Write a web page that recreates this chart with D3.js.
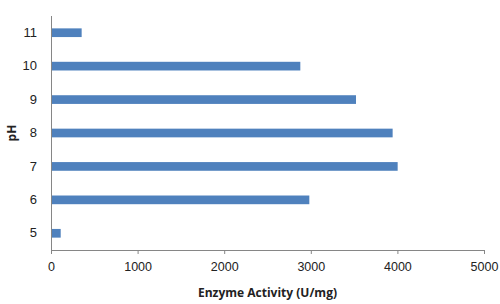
<!DOCTYPE html>
<html>
<head>
<meta charset="utf-8">
<script src="https://cdn.jsdelivr.net/npm/d3@7"></script>
<style>
  body { margin: 0; background: #fff; }
  svg { font-family: "Open Sans", "Liberation Sans", sans-serif; }
</style>
</head>
<body>
<svg id="chart" width="500" height="304"></svg>
<script>
const phLevels = ["5", "6", "7", "8", "9", "10", "11"];
const activity = [112, 2983, 4003, 3945, 3522, 2879, 354];
const xTicks = [0, 1000, 2000, 3000, 4000, 5000];

const width = 500, height = 304;
const margin = { top: 16, right: 16, bottom: 54, left: 51 };
const plotWidth = 484 - margin.left;
const plotHeight = 250 - margin.top;

const svg = d3.select("#chart");
const g = svg.append("g")
    .attr("transform", `translate(${margin.left}, ${margin.top})`);

let xScale = d3.scaleLinear()
    .domain([0, 5000])
    .range([0, plotWidth]);
let yScale = d3.scaleBand()
    .domain(phLevels)
    .range([plotHeight, 0])
    .paddingInner(0.74)
    .paddingOuter(0.37);

// bars
g.selectAll("rect.bar")
    .data(phLevels.map((p, i) => ({ ph: p, value: activity[i] })))
    .join("rect")
    .attr("class", "bar")
    .attr("x", 0)
    .attr("y", d => yScale(d.ph))
    .attr("width", d => xScale(d.value))
    .attr("height", yScale.bandwidth())
    .attr("fill", "#4f81bd");

// x axis
let xAxis = d3.axisBottom(xScale)
    .tickValues(xTicks)
    .tickSize(4)
    .tickPadding(8)
    .tickFormat(d3.format("d"));
g.append("g")
    .attr("transform", `translate(0, ${plotHeight})`)
    .call(xAxis)
    .call(a => a.select(".domain").attr("stroke", "#868686").attr("d", `M0.5,0.5H${plotWidth + 0.5}`))
    .call(a => a.selectAll(".tick line").attr("stroke", "#868686"))
    .call(a => a.selectAll(".tick text").attr("font-size", 12.5).attr("fill", "#222"));

// y axis
let yAxis = d3.axisLeft(yScale)
    .tickSize(0)
    .tickPadding(14);
g.append("g")
    .call(yAxis)
    .call(a => a.select(".domain").attr("stroke", "#868686").attr("d", `M0.5,0V${plotHeight}`))
    .call(a => a.selectAll(".tick text").attr("font-size", 13).attr("fill", "#222"));

// axis titles
svg.append("text")
    .attr("x", margin.left + plotWidth / 2)
    .attr("y", 297)
    .attr("text-anchor", "middle")
    .attr("font-size", 12)
    .attr("font-weight", "bold")
    .attr("fill", "#222")
    .text("Enzyme Activity (U/mg)");

svg.append("text")
    .attr("transform", `translate(16, ${margin.top + plotHeight / 2}) rotate(-90)`)
    .attr("text-anchor", "middle")
    .attr("font-size", 12)
    .attr("font-weight", "bold")
    .attr("fill", "#222")
    .text("pH");
</script>
</body>
</html>
